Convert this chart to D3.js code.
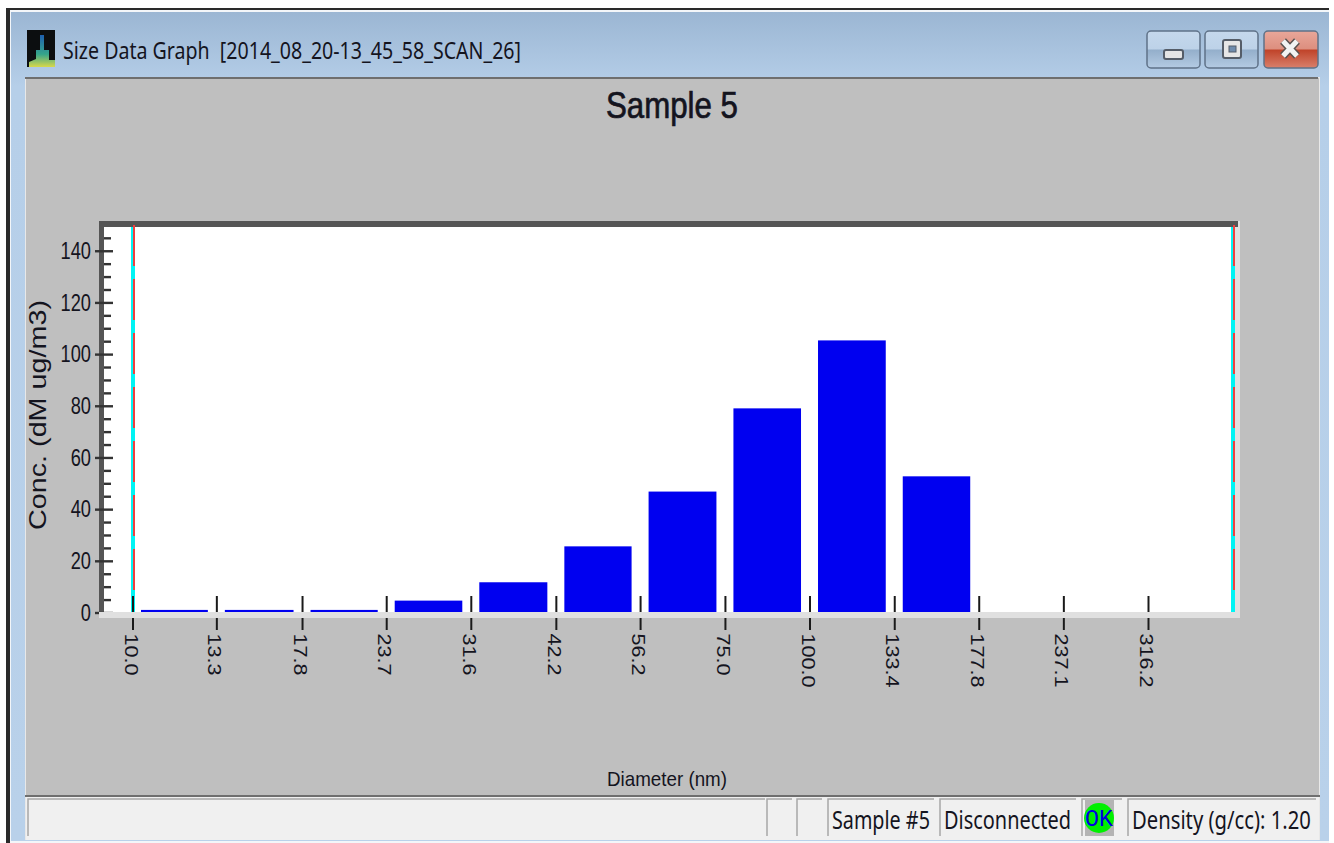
<!DOCTYPE html>
<html>
<head>
<meta charset="utf-8">
<title>Size Data Graph</title>
<script src="https://cdn.jsdelivr.net/npm/d3@7"></script>
<style>
  html, body { margin: 0; padding: 0; background: #fff; overflow: hidden; }
  svg { display: block; }
  text { fill: #14141e; font-family: "Liberation Sans", Arial, sans-serif; white-space: pre; }
</style>
</head>
<body>
<svg id="chart" width="1334" height="843"></svg>
<script>
// bin lower edges
const diameterLabels = ["10.0", "13.3", "17.8", "23.7", "31.6", "42.2", "56.2", "75.0", "100.0", "133.4", "177.8", "237.1", "316.2"];
const concValues = [1, 1, 1, 4.6, 11.7, 25.6, 46.8, 79, 105.3, 52.7];
const yMajorTicks = [0, 20, 40, 60, 80, 100, 120, 140];
const yMinorTicks = [5, 10, 15, 25, 30, 35, 45, 50, 55, 65, 70, 75, 85, 90, 95, 105, 110, 115, 125, 130, 135, 145];
const cursorDiameters = [10, 421.7];
const statusPanels = [
  { x: 28, w: 737, label: "" },
  { x: 767, w: 25, label: "" },
  { x: 797, w: 25, label: "" },
  { x: 828, w: 106, label: "Sample #5", len: 98 },
  { x: 940, w: 136, label: "Disconnected", len: 127 },
  { x: 1082, w: 40, label: "" },
  { x: 1128, w: 188, label: "Density (g/cc): 1.20", len: 179 }
];

const svg = d3.select("#chart");
const diameters = diameterLabels.map(Number);

const x = d3.scaleLog().domain([10, 316.2]).range([132.5, 1148]);
const y = d3.scaleLinear().domain([0, 150]).range([612.5, 224.9]);

// stretches text along its baseline, the screenshot is not in proportion
function stretch(sel, factor) {
  sel.each(function () {
    const len = this.getComputedTextLength();
    d3.select(this).attr("textLength", len * factor).attr("lengthAdjust", "spacingAndGlyphs");
  });
}

function drawWindow() {
  const defs = svg.append("defs");
  const frame = defs.append("linearGradient").attr("id", "frameFill").attr("x2", 0).attr("y2", 1);
  frame.append("stop").attr("offset", 0).attr("stop-color", "#9bb6d3");
  frame.append("stop").attr("offset", 0.09).attr("stop-color", "#b6cfe9");
  frame.append("stop").attr("offset", 1).attr("stop-color", "#b9d1ea");

  const btn = defs.append("linearGradient").attr("id", "btnFill").attr("x2", 0).attr("y2", 1);
  btn.append("stop").attr("offset", 0).attr("stop-color", "#c5d8ec");
  btn.append("stop").attr("offset", 0.48).attr("stop-color", "#bdd2e8");
  btn.append("stop").attr("offset", 0.52).attr("stop-color", "#94afcb");
  btn.append("stop").attr("offset", 1).attr("stop-color", "#b4cbe3");

  const closeBtn = defs.append("linearGradient").attr("id", "closeFill").attr("x2", 0).attr("y2", 1);
  closeBtn.append("stop").attr("offset", 0).attr("stop-color", "#e9a79a");
  closeBtn.append("stop").attr("offset", 0.48).attr("stop-color", "#dd8f7f");
  closeBtn.append("stop").attr("offset", 0.52).attr("stop-color", "#c0442a");
  closeBtn.append("stop").attr("offset", 1).attr("stop-color", "#d9806c");

  const icon = defs.append("linearGradient").attr("id", "iconFill").attr("x2", 0).attr("y2", 1);
  icon.append("stop").attr("offset", 0).attr("stop-color", "#1f5fb0");
  icon.append("stop").attr("offset", 0.6).attr("stop-color", "#35a58a");
  icon.append("stop").attr("offset", 1).attr("stop-color", "#d8d84a");

  // frame
  svg.append("rect").attr("x", 6).attr("y", 8).attr("width", 1323).attr("height", 835).attr("fill", "#2a2a2a");
  svg.append("rect").attr("x", 10).attr("y", 10).attr("width", 1319).attr("height", 833).attr("fill", "#f3f6f9");
  svg.append("rect").attr("x", 11).attr("y", 12).attr("width", 1318).attr("height", 829).attr("fill", "url(#frameFill)");

  // title bar
  svg.append("rect").attr("x", 27).attr("y", 30).attr("width", 28).attr("height", 37).attr("fill", "#0c0e10");
  svg.append("path").attr("d", "M40 35h4v15h5v10h6v7H29v-5l7-3v-9h4z").attr("fill", "url(#iconFill)");

  svg.append("text").attr("x", 63).attr("y", 59)
    .style("font-family", "'Noto Sans', sans-serif").attr("font-size", 23)
    .attr("textLength", 458).attr("lengthAdjust", "spacingAndGlyphs")
    .text("Size Data Graph  [2014_08_20-13_45_58_SCAN_26]");

  const buttons = [[1147, 53, "url(#btnFill)"], [1205, 53, "url(#btnFill)"], [1264, 54, "url(#closeFill)"]];
  svg.selectAll("rect.winbtn").data(buttons).join("rect").attr("class", "winbtn")
    .attr("x", d => d[0]).attr("y", 31).attr("width", d => d[1]).attr("height", 37).attr("rx", 4)
    .attr("fill", d => d[2]).attr("stroke", "#5f7288").attr("stroke-width", 1.5);
  svg.append("rect").attr("x", 1164).attr("y", 50).attr("width", 19).attr("height", 9).attr("rx", 2)
    .attr("fill", "#e4e4e4").attr("stroke", "#555d68").attr("stroke-width", 2);
  svg.append("rect").attr("x", 1223).attr("y", 40).attr("width", 18).attr("height", 18).attr("rx", 2)
    .attr("fill", "#e6e6e6").attr("stroke", "#555d68").attr("stroke-width", 2);
  svg.append("rect").attr("x", 1229).attr("y", 46).attr("width", 7).attr("height", 6)
    .attr("fill", "#6f8cad").attr("stroke", "#555d68");
  svg.append("path").attr("d", "M1283 41l14 15M1297 41l-14 15").attr("stroke", "#59504e")
    .attr("stroke-width", 8).attr("fill", "none");
  svg.append("path").attr("d", "M1283 41l14 15M1297 41l-14 15").attr("stroke", "#f2f2f2")
    .attr("stroke-width", 5).attr("fill", "none");

  // client area
  svg.append("rect").attr("x", 25).attr("y", 77).attr("width", 1295).attr("height", 763).attr("fill", "#e8e8e8");
  svg.append("rect").attr("x", 26).attr("y", 78).attr("width", 1293).attr("height", 718).attr("fill", "#bfbfbf");
  svg.append("rect").attr("x", 25).attr("y", 77).attr("width", 1293).attr("height", 2).attr("fill", "#6f6f6f");
}

function drawChart() {
  svg.append("text").attr("x", 672).attr("y", 118).attr("text-anchor", "middle")
    .attr("font-size", 36).attr("textLength", 132).attr("lengthAdjust", "spacingAndGlyphs")
    .attr("stroke", "#14141e").attr("stroke-width", 0.7)
    .text("Sample 5");

  // plot frame
  svg.append("rect").attr("x", 99).attr("y", 221).attr("width", 1141).attr("height", 397).attr("fill", "#e0e0e0");
  svg.append("rect").attr("x", 104).attr("y", 227).attr("width", 1130).attr("height", 385).attr("fill", "#fff");
  svg.append("rect").attr("x", 99).attr("y", 221).attr("width", 1139).attr("height", 6).attr("fill", "#555");
  svg.append("rect").attr("x", 99).attr("y", 221).attr("width", 5).attr("height", 392).attr("fill", "#555");

  // bars between the tick marks
  const bars = concValues.map((v, i) => ({ v, lo: diameters[i], hi: diameters[i + 1] }));
  svg.append("g").selectAll("rect").data(bars).join("rect")
    .attr("x", d => x(d.lo) + 8.5)
    .attr("width", d => x(d.hi) - x(d.lo) - 17)
    .attr("y", d => y(d.v))
    .attr("height", d => y(0) - y(d.v))
    .attr("fill", "#0000f0");

  // cursors, snapped to whole pixels so the colours stay clean
  const cursorX = d => Math.round(x(d));
  const cursors = svg.append("g").selectAll("g").data(cursorDiameters).join("g");
  cursors.append("line").attr("x1", cursorX).attr("x2", cursorX).attr("y1", 227).attr("y2", 612)
    .attr("stroke", "#00f4f4").attr("stroke-width", 4);
  cursors.append("line").attr("x1", d => cursorX(d) + 1).attr("x2", d => cursorX(d) + 1).attr("y1", 225).attr("y2", 596)
    .attr("stroke", "#f04040").attr("stroke-width", 2).attr("stroke-dasharray", "41 13");

  // y axis
  const yAxis = svg.append("g").attr("transform", "translate(104,0)")
    .call(d3.axisLeft(y).tickValues(yMajorTicks).tickSizeInner(0).tickSizeOuter(0).tickPadding(13));
  yAxis.select(".domain").remove();
  yAxis.selectAll("text").attr("font-size", 24).attr("font-family", "'Liberation Sans', sans-serif")
    .attr("fill", "#14141e").call(stretch, 0.76);
  yAxis.selectAll(".tick line").attr("x1", -9).attr("x2", 9).attr("stroke", "#333").attr("stroke-width", 2.4);

  const yMinor = svg.append("g").attr("transform", "translate(104,0)")
    .call(d3.axisRight(y).tickValues(yMinorTicks).tickSizeOuter(0).tickSizeInner(7).tickFormat(""));
  yMinor.select(".domain").remove();
  yMinor.selectAll(".tick line").attr("stroke", "#333").attr("stroke-width", 2.4);

  // x axis ticks run through the plot frame, the light strip hides the middle
  const xAxis = svg.append("g").attr("transform", "translate(0,612)")
    .call(d3.axisBottom(x).tickValues(diameters).tickFormat((d, i) => diameterLabels[i]).tickSizeOuter(0).tickSizeInner(0));
  xAxis.select(".domain").remove();
  xAxis.selectAll(".tick line").attr("y1", -16).attr("y2", 18).attr("stroke", "#1a1a1a").attr("stroke-width", 2);
  svg.append("rect").attr("x", 99).attr("y", 612).attr("width", 1141).attr("height", 6).attr("fill", "#e0e0e0");

  xAxis.selectAll("text")
    .attr("font-size", 18).attr("font-family", "'Liberation Sans', sans-serif").attr("fill", "#14141e")
    .attr("text-anchor", "start").attr("dy", 0)
    .attr("transform", "translate(-8.5,21.5) rotate(90)")
    .attr("x", 0).attr("y", 0)
    .call(stretch, 1.2);

  // axis titles
  svg.append("text").attr("transform", "translate(46,415) rotate(-90)").attr("text-anchor", "middle")
    .attr("font-size", 24).attr("textLength", 230).attr("lengthAdjust", "spacingAndGlyphs")
    .text("Conc. (dM ug/m3)");
  svg.append("text").attr("x", 667).attr("y", 786).attr("text-anchor", "middle")
    .attr("font-size", 21).attr("textLength", 120).attr("lengthAdjust", "spacingAndGlyphs")
    .text("Diameter (nm)");
}

function drawStatusBar() {
  svg.append("rect").attr("x", 25).attr("y", 795).attr("width", 1295).attr("height", 2).attr("fill", "#6f6f6f");
  svg.append("rect").attr("x", 26).attr("y", 797).attr("width", 1293).attr("height", 43).attr("fill", "#f0f0f0");

  svg.append("g").selectAll("path").data(statusPanels).join("path")
    .attr("d", d => `M${d.x} 836V799H${d.x + d.w}`)
    .attr("fill", "none").attr("stroke", "#a6a6a6").attr("stroke-width", 1.5);

  // narrow the labels with a scale so they keep the tall letters of the reference
  svg.append("g").selectAll("text").data(statusPanels.filter(d => d.label)).join("text")
    .style("font-family", "'Noto Sans', sans-serif")
    .attr("font-size", 25)
    .text(d => d.label)
    .attr("transform", function (d) {
      return `translate(${d.x + 4},829) scale(${d.len / this.getComputedTextLength()},1)`;
    });

  // status lamp
  svg.append("rect").attr("x", 1085).attr("y", 800).attr("width", 29).attr("height", 36).attr("fill", "#b4b4b4");
  svg.append("circle").attr("cx", 1099).attr("cy", 818).attr("r", 15).attr("fill", "#00f000");
  svg.append("text").attr("x", 1099).attr("y", 826).attr("text-anchor", "middle")
    .style("font-family", "'Liberation Mono', monospace").attr("font-size", 23).style("fill", "#0000e0")
    .attr("textLength", 28).attr("lengthAdjust", "spacingAndGlyphs")
    .text("OK");
}

drawWindow();
drawChart();
drawStatusBar();
</script>
</body>
</html>
